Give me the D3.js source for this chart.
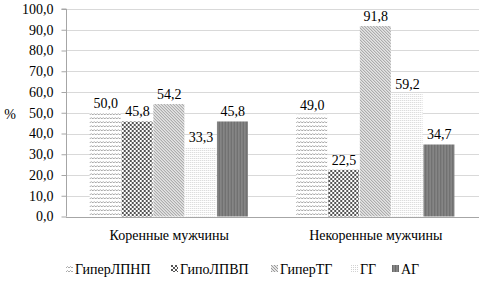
<!DOCTYPE html>
<html><head><meta charset="utf-8">
<script src="https://cdn.jsdelivr.net/npm/d3@7"></script>
<style>
body{margin:0;background:#fff;font-family:"Liberation Serif",Tinos,"Times New Roman",serif}
svg{display:block;font-family:"Liberation Serif",Tinos,"Times New Roman",serif}
svg text{font-family:"Liberation Serif",Tinos,"Times New Roman",serif !important}
</style>
</head><body><svg id="c" width="480" height="288" font-family="Liberation Serif, Tinos, serif"></svg>
<script>
const categories = ["Коренные мужчины", "Некоренные мужчины"];
const seriesNames = ["ГиперЛПНП", "ГипоЛПВП", "ГиперТГ", "ГГ", "АГ"];
const valuesKorennye = [50.0, 45.8, 54.2, 33.3, 45.8];
const valuesNekorennye = [49.0, 22.5, 91.8, 59.2, 34.7];
const yTicks = [0,10,20,30,40,50,60,70,80,90,100];

const FF = "Liberation Serif, Tinos, Times New Roman, serif";
const data = categories.map((c,i)=>({cat:c, vals:(i===0?valuesKorennye:valuesNekorennye)}));
const svg = d3.select("#c");
const m = {l:66, r:1, t:9, b:71.5};
const W = 480, H = 288;
const x0 = d3.scaleBand().domain(categories).range([m.l, W-m.r]).paddingInner(0.23).paddingOuter(0.115);
const x1 = d3.scaleBand().domain(seriesNames).range([0, x0.bandwidth()]);
const y = d3.scaleLinear().domain([0,100]).range([H-m.b, m.t]);
const fmt = v => d3.format(".1f")(v).replace(".", ",");
const T = sel => sel.attr("font-size",14).attr("font-family",FF).attr("fill","#000");

const defs = svg.append("defs");
let p = defs.append("pattern").attr("id","p0").attr("patternUnits","userSpaceOnUse").attr("width",6).attr("height",4);
p.append("rect").attr("width",6).attr("height",4).attr("fill","#fff");
p.append("path").attr("d","M0,3 L1.5,1.5 L3,3 L4.5,1.5 L6,3").attr("stroke","#a0a0a0").attr("fill","none").attr("stroke-width",0.9);
p = defs.append("pattern").attr("id","p1").attr("patternUnits","userSpaceOnUse").attr("width",4).attr("height",4);
p.append("rect").attr("width",4).attr("height",4).attr("fill","#fff");
p.append("rect").attr("width",2).attr("height",2).attr("fill","#555");
p.append("rect").attr("x",2).attr("y",2).attr("width",2).attr("height",2).attr("fill","#555");
p = defs.append("pattern").attr("id","p2").attr("patternUnits","userSpaceOnUse").attr("width",3).attr("height",3);
p.append("rect").attr("width",3).attr("height",3).attr("fill","#e4e4e4");
p.append("path").attr("d","M-1,-1 L4,4 M-1,2 L1,4 M2,-1 L4,1").attr("stroke","#9a9a9a").attr("stroke-width",1);
p = defs.append("pattern").attr("id","p3").attr("patternUnits","userSpaceOnUse").attr("width",2).attr("height",2);
p.append("rect").attr("width",2).attr("height",2).attr("fill","#fff");
p.append("rect").attr("width",1).attr("height",1).attr("fill","#d2d2d2");
p = defs.append("pattern").attr("id","p4").attr("patternUnits","userSpaceOnUse").attr("width",3).attr("height",3);
p.append("rect").attr("width",3).attr("height",3).attr("fill","#858585");
p.append("rect").attr("width",1).attr("height",3).attr("fill","#6a6a6a");
const fills = seriesNames.map((s,i)=>`url(#p${i})`);

// grid
svg.append("g").selectAll("line").data(yTicks.slice(1)).join("line")
  .attr("x1", m.l).attr("x2", W-m.r).attr("y1", d=>Math.round(y(d))+0.5).attr("y2", d=>Math.round(y(d))+0.5)
  .attr("stroke","#d9d9d9").attr("stroke-width",1);

// bars
const g = svg.append("g").selectAll("g").data(data).join("g").attr("transform", d=>`translate(${x0(d.cat)},0)`);
g.selectAll("rect").data(d=>d.vals.map((v,i)=>({s:seriesNames[i], v, i}))).join("rect")
  .attr("x", d=>x1(d.s)).attr("width", x1.bandwidth()-0.8)
  .attr("y", d=>y(d.v)).attr("height", d=>y(0)-y(d.v))
  .attr("fill", d=>fills[d.i]);
g.selectAll("text").data(d=>d.vals.map((v,i)=>({s:seriesNames[i], v, i}))).join("text")
  .attr("x", d=>x1(d.s)+x1.bandwidth()/2).attr("y", d=>y(d.v)-5)
  .attr("text-anchor","middle").call(T).text(d=>fmt(d.v));

// y axis
const ya = svg.append("g").attr("transform",`translate(${m.l+0.5},0)`)
  .call(d3.axisLeft(y).tickValues(yTicks).tickFormat(fmt).tickSize(5).tickPadding(8));
ya.attr("font-family",FF).attr("font-size",14);
ya.select(".domain").attr("stroke","#a6a6a6").attr("d",`M-5,${y(100)}H0V${y(0)}`);
ya.selectAll(".tick line").attr("stroke","#a6a6a6");
ya.selectAll(".tick text").call(T);

// x axis
svg.append("line").attr("x1",m.l).attr("x2",W-m.r).attr("y1",Math.round(y(0))+0.5).attr("y2",Math.round(y(0))+0.5).attr("stroke","#a6a6a6");
svg.append("g").selectAll("text").data(categories).join("text")
  .attr("x", d=>x0(d)+x0.bandwidth()/2).attr("y", 240)
  .attr("text-anchor","middle").call(T).text(d=>d);

// y label
svg.append("text").attr("x",10).attr("y",119).attr("text-anchor","middle").call(T).text("%");

// legend
const legX = [66, 171, 271, 351, 392];
const lg = svg.append("g").selectAll("g").data(seriesNames).join("g").attr("transform",(d,i)=>`translate(${legX[i]},265)`);
lg.append("rect").attr("width",7).attr("height",7).attr("fill",(d,i)=>fills[i]);
lg.append("text").attr("x",9).attr("y",8.5).call(T).text(d=>d);
</script></body></html>
